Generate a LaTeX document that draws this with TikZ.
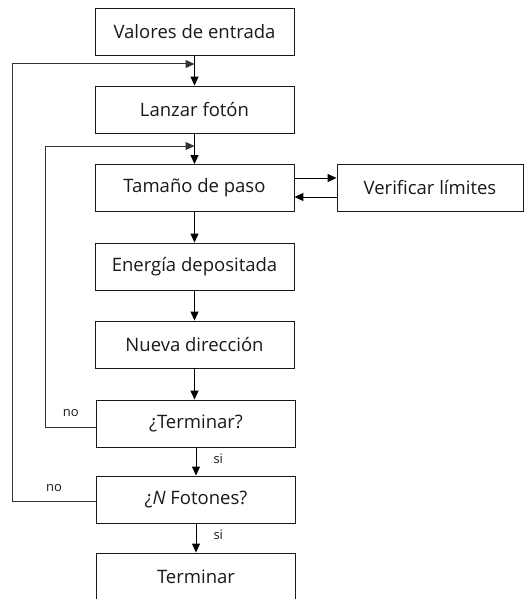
\documentclass[tikz,border=0pt]{standalone}
\usepackage{fontspec}
\setmainfont{Open Sans}
\usetikzlibrary{arrows.meta}
\begin{document}
\begin{tikzpicture}[x=1pt,y=-1pt,>={Triangle[length=9pt,width=8pt]},
  caja/.style={draw,black!90,text=black!90,line width=0.9pt,minimum width=199pt,
    minimum height=47pt,inner sep=0pt,font=\fontsize{18.5}{22}\selectfont},
  flecha/.style={->,line width=1pt},
  lazo/.style={->,line width=1pt,black!80},
  etiq/.style={inner sep=0pt,text=black!90,font=\fontsize{13}{15}\selectfont}]
 \useasboundingbox (0,0) rectangle (525,599);
 \node[caja] (val) at (194.5,31.5) {Valores de entrada};
 \node[caja] (lan) at (194.5,109.5) {Lanzar fotón};
 \node[caja] (tam) at (194.5,188) {Tamaño de paso};
 \node[caja,minimum width=186pt] (ver) at (430,188) {Verificar límites};
 \node[caja] (ene) at (194.5,266.5) {Energía depositada};
 \node[caja] (nue) at (194.5,344.5) {Nueva dirección};
 \node[caja] (ter) at (196,423.5) {¿Terminar?};
 \node[caja] (fot) at (196,499.5) {¿\textit{N} Fotones?};
 \node[caja] (fin) at (196,576.5) {Terminar};
 \coordinate (m1) at (194.5,64);
 \coordinate (m2) at (194.5,146);
 % camino principal
 \foreach \a/\b in {val/lan,lan/tam,tam/ene,ene/nue}
   \draw[flecha] (\a.south) -- (\b.north);
 \draw[flecha] (nue.south) -- (nue.south |- ter.north);
 \draw[flecha] (ter.south) -- (fot.north)
   node[etiq,pos=.4,right=17pt] {si};
 \draw[flecha] (fot.south) -- (fin.north)
   node[etiq,pos=.4,right=17pt] {si};
 % verificar limites
 \draw[flecha] ([yshift=10pt]tam.east) -- ([yshift=10pt]ver.west);
 \draw[flecha] ([yshift=-9pt]ver.west) -- ([yshift=-9pt]tam.east);
 % lazos
 \draw[lazo] ([yshift=-4pt]ter.west) -- ++(-50.5,0)
   node[etiq,midway,above=10pt] {no} |- (m2);
 \draw[lazo] ([yshift=-2pt]fot.west) -- ++(-84,0)
   node[etiq,midway,above=9pt] {no} |- (m1);
\end{tikzpicture}
\end{document}
